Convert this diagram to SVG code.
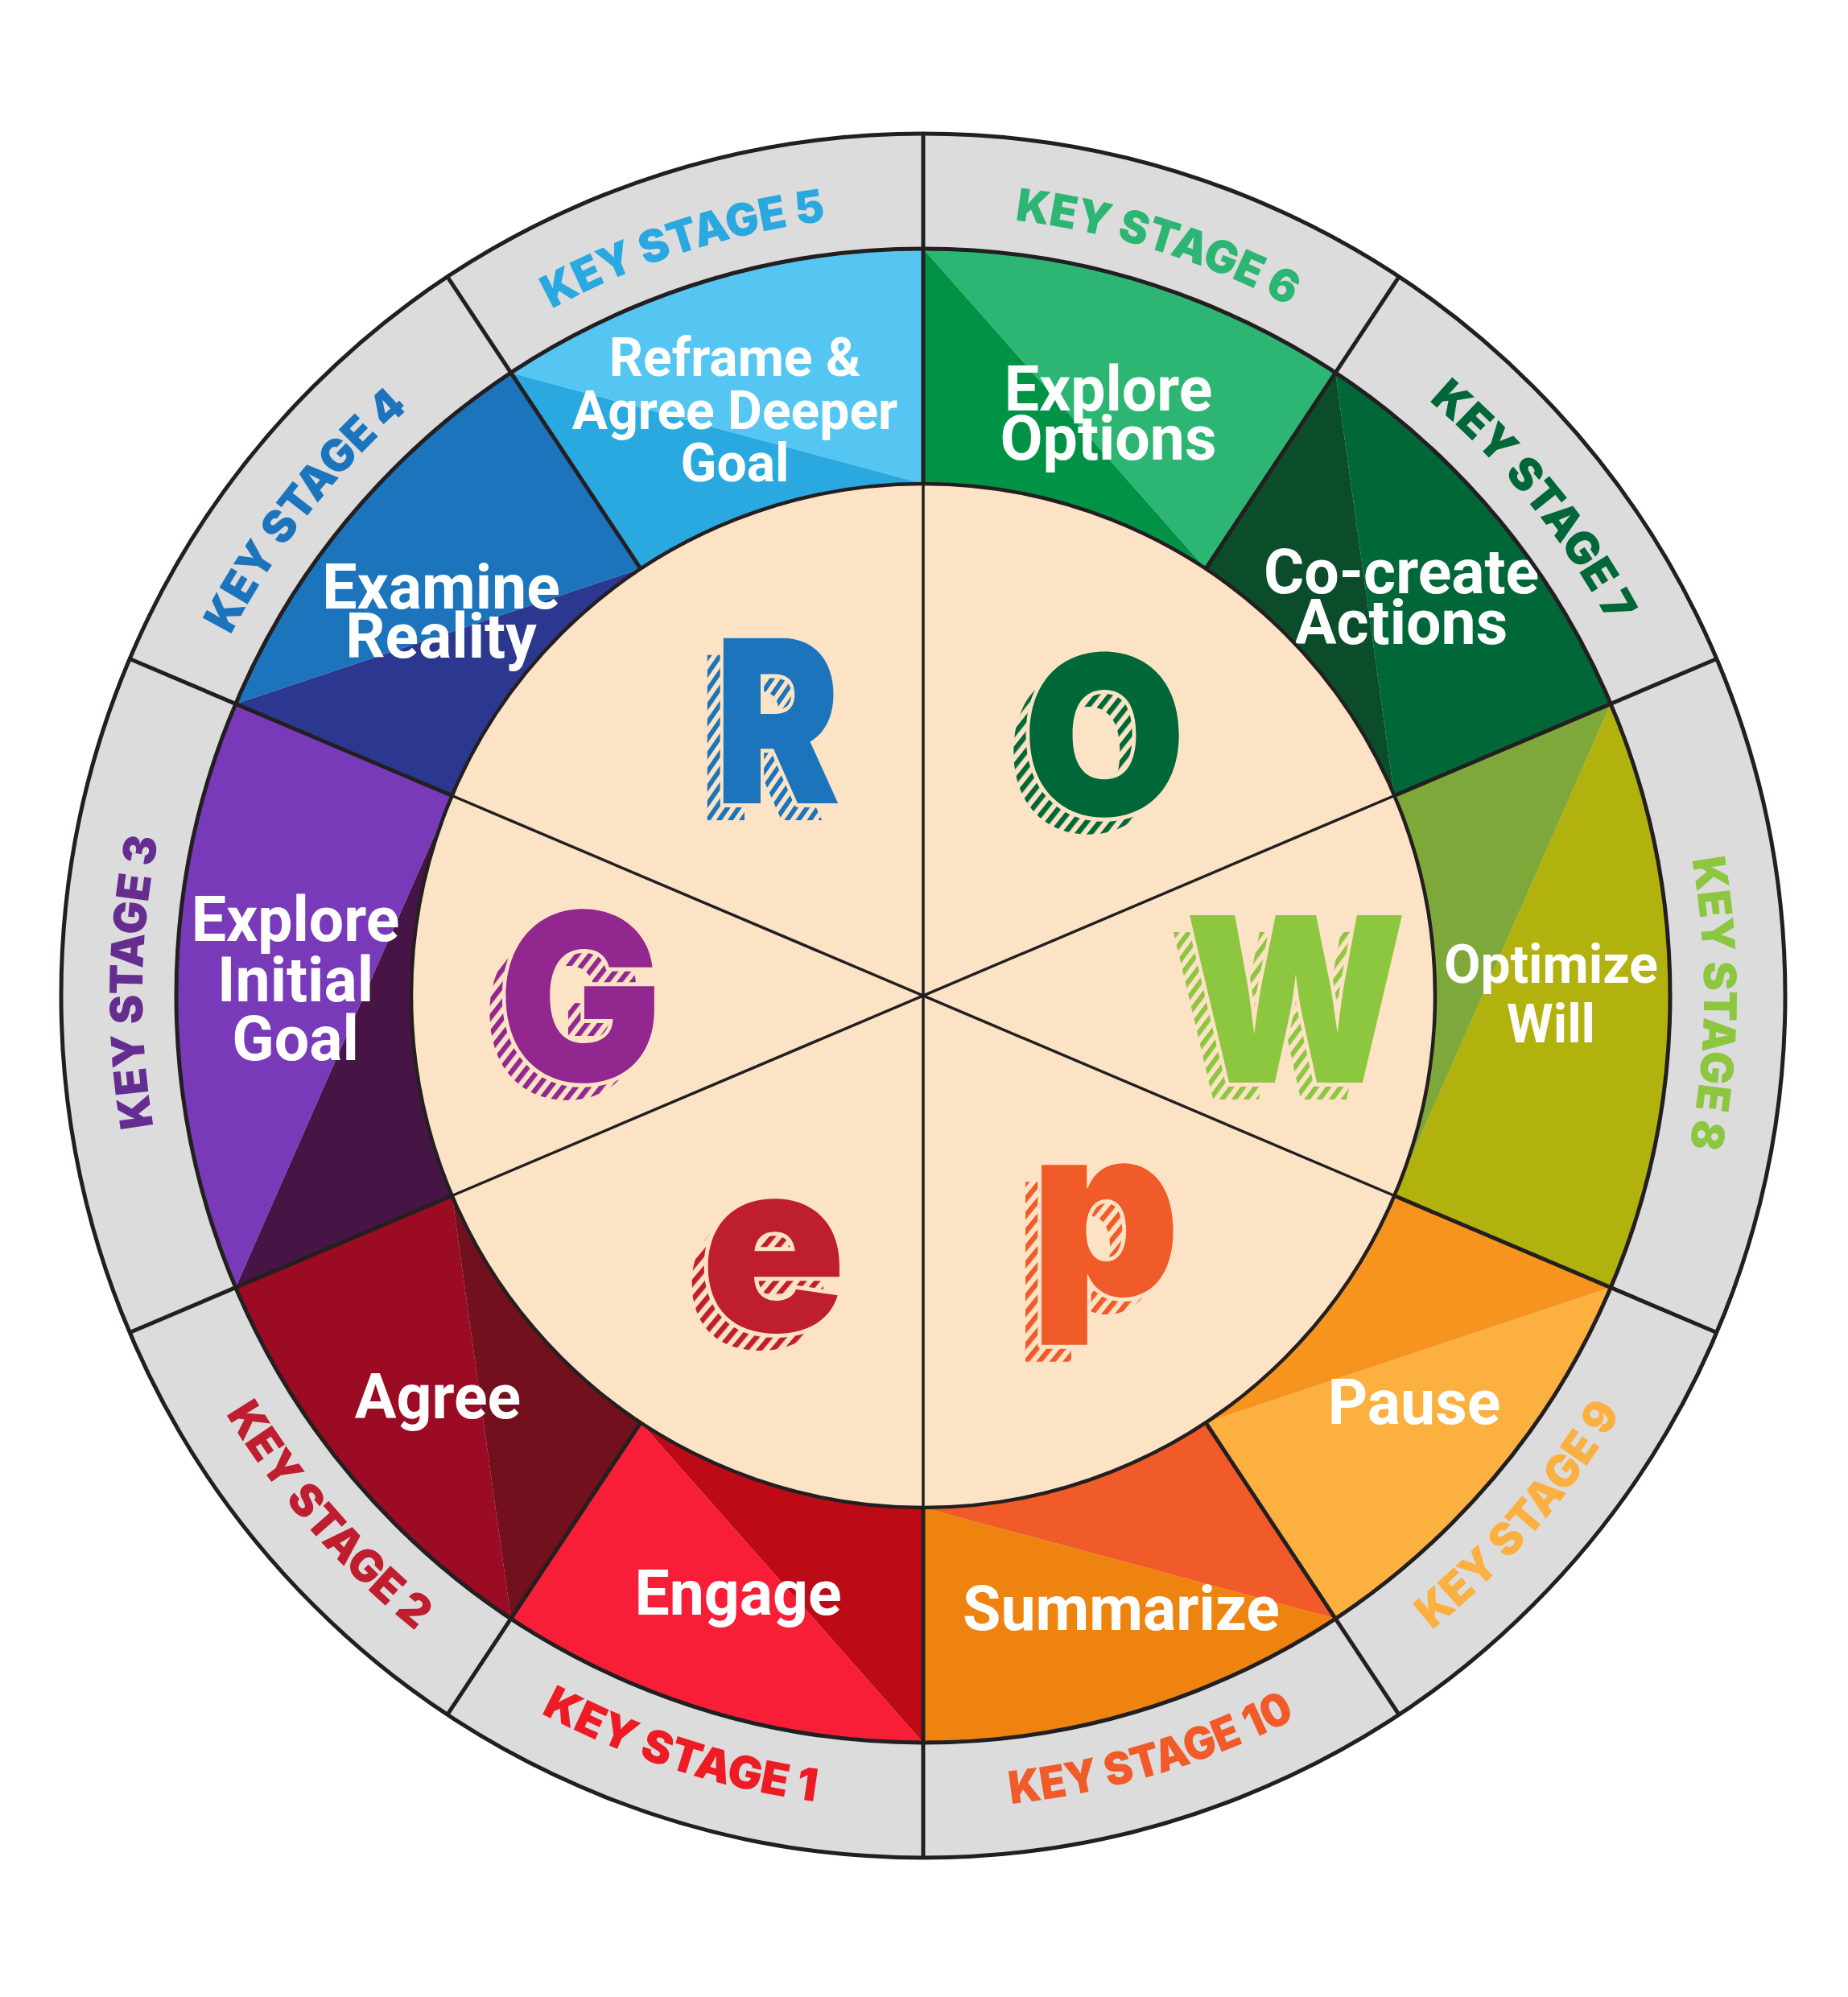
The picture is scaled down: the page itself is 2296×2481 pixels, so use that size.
<svg xmlns="http://www.w3.org/2000/svg" width="2296" height="2481" viewBox="0 0 2296 2481">
<style>
.ks{font-family:Inter,Roboto,"Liberation Sans",sans-serif;font-weight:900;font-size:56px}
.lbl{font-family:Roboto,"Liberation Sans",sans-serif;font-weight:700;fill:#fff;text-anchor:middle}
.l74{font-size:77px}
.l64{font-size:66px}
.big{font-family:Inter,Roboto,"Liberation Sans",sans-serif;font-weight:900;text-anchor:middle}
.face{stroke:#FDE3C5;stroke-width:10;paint-order:stroke;stroke-linejoin:round}
.ln{stroke:#231F20;fill:none}
</style>
<defs>
<pattern id="hR" width="13" height="13" patternUnits="userSpaceOnUse" patternTransform="rotate(40)"><rect width="6.5" height="13" fill="#1C75BC"/></pattern>
<pattern id="hO" width="13" height="13" patternUnits="userSpaceOnUse" patternTransform="rotate(40)"><rect width="6.5" height="13" fill="#006838"/></pattern>
<pattern id="hW" width="13" height="13" patternUnits="userSpaceOnUse" patternTransform="rotate(40)"><rect width="6.5" height="13" fill="#8DC63F"/></pattern>
<pattern id="hG" width="13" height="13" patternUnits="userSpaceOnUse" patternTransform="rotate(40)"><rect width="6.5" height="13" fill="#92278F"/></pattern>
<pattern id="hE" width="13" height="13" patternUnits="userSpaceOnUse" patternTransform="rotate(40)"><rect width="6.5" height="13" fill="#BE1E2D"/></pattern>
<pattern id="hP" width="13" height="13" patternUnits="userSpaceOnUse" patternTransform="rotate(40)"><rect width="6.5" height="13" fill="#F15A29"/></pattern>
<path id="p3" d="M254.1,1616.0 A970,970 0 0 1 254.1,858.0"/>
<path id="p4" d="M254.1,858.0 A970,970 0 0 1 611.6,428.1"/>
<path id="p5" d="M611.6,428.1 A970,970 0 0 1 1147,267"/>
<path id="p6" d="M1147,267 A970,970 0 0 1 1682.4,428.1"/>
<path id="p7" d="M1682.4,428.1 A970,970 0 0 1 2039.9,858.0"/>
<path id="p8" d="M2039.9,858.0 A970,970 0 0 1 2039.9,1616.0"/>
<path id="p9" d="M1704.5,2079.2 A1010,1010 0 0 0 2076.7,1631.6"/>
<path id="p10" d="M1147,2247 A1010,1010 0 0 0 1704.5,2079.2"/>
<path id="p1" d="M589.5,2079.2 A1010,1010 0 0 0 1147,2247"/>
<path id="p2" d="M217.3,1631.6 A1010,1010 0 0 0 589.5,2079.2"/>
</defs>
<rect width="2296" height="2481" fill="#fff"/>
<circle id="outer-ring" cx="1147" cy="1237" r="1071" fill="#DCDCDD"/>

<g id="ks6">
<path d="M1147,309 L1498.0,706.6 A636,636 0 0 0 1147,601 Z" fill="#009245"/>
<path d="M1147,309 A928,928 0 0 1 1659.2,463.2 L1498.0,706.6 Z" fill="#2DB673"/>
<text class="ks" fill="#2DB673"><textPath href="#p6" startOffset="294" text-anchor="middle" textLength="360" lengthAdjust="spacingAndGlyphs">KEY STAGE 6</textPath></text>
<text class="lbl l74" x="1377" y="510">Explore</text>
<text class="lbl l74" x="1377" y="571">Options</text>
</g>
<g id="ks7">
<path d="M1659.2,463.2 L1732.4,988.5 A636,636 0 0 0 1498.0,706.6 Z" fill="#0B4C2B"/>
<path d="M1659.2,463.2 A928,928 0 0 1 2001.2,874.4 L1732.4,988.5 Z" fill="#006838"/>
<text class="ks" fill="#006838"><textPath href="#p7" startOffset="296" text-anchor="middle" textLength="360" lengthAdjust="spacingAndGlyphs">KEY STAGE 7</textPath></text>
<text class="lbl l74" x="1741" y="737">Co-create</text>
<text class="lbl l74" x="1741" y="800">Actions</text>
</g>
<g id="ks8">
<path d="M2001.2,874.4 L1732.4,1485.5 A636,636 0 0 0 1732.4,988.5 Z" fill="#7FA83A"/>
<path d="M2001.2,874.4 A928,928 0 0 1 2001.2,1599.6 L1732.4,1485.5 Z" fill="#B1B20E"/>
<text class="ks" fill="#8DC63F"><textPath href="#p8" startOffset="399" text-anchor="middle" textLength="360" lengthAdjust="spacingAndGlyphs">KEY STAGE 8</textPath></text>
<text class="lbl l64" x="1927" y="1221">Optimize</text>
<text class="lbl l64" x="1927" y="1295">Will</text>
</g>
<g id="ks9">
<path d="M2001.2,1599.6 L1498.0,1767.4 A636,636 0 0 0 1732.4,1485.5 Z" fill="#F7941D"/>
<path d="M2001.2,1599.6 A928,928 0 0 1 1659.2,2010.8 L1498.0,1767.4 Z" fill="#FBB040"/>
<text class="ks" fill="#FBB040"><textPath href="#p9" startOffset="272" text-anchor="middle" textLength="360" lengthAdjust="spacingAndGlyphs">KEY STAGE 9</textPath></text>
<text class="lbl l74" x="1757" y="1769">Pause</text>
</g>
<g id="ks10">
<path d="M1659.2,2010.8 L1147,1873 A636,636 0 0 0 1498.0,1767.4 Z" fill="#F15A29"/>
<path d="M1659.2,2010.8 A928,928 0 0 1 1147,2165 L1147,1873 Z" fill="#EE8310"/>
<text class="ks" fill="#F15A29"><textPath href="#p10" startOffset="295" text-anchor="middle" textLength="372" lengthAdjust="spacingAndGlyphs">KEY STAGE 10</textPath></text>
<text class="lbl l74" x="1393" y="2025">Summarize</text>
</g>
<g id="ks1">
<path d="M1147,2165 L796.0,1767.4 A636,636 0 0 0 1147,1873 Z" fill="#BD0A17"/>
<path d="M1147,2165 A928,928 0 0 1 634.8,2010.8 L796.0,1767.4 Z" fill="#F91E37"/>
<text class="ks" fill="#ED1C24"><textPath href="#p1" startOffset="276" text-anchor="middle" textLength="360" lengthAdjust="spacingAndGlyphs">KEY STAGE 1</textPath></text>
<text class="lbl l74" x="917" y="2006">Engage</text>
</g>
<g id="ks2">
<path d="M634.8,2010.8 L561.6,1485.5 A636,636 0 0 0 796.0,1767.4 Z" fill="#72101D"/>
<path d="M634.8,2010.8 A928,928 0 0 1 292.8,1599.6 L561.6,1485.5 Z" fill="#9B0B23"/>
<text class="ks" fill="#BE1E2D"><textPath href="#p2" startOffset="320" text-anchor="middle" textLength="360" lengthAdjust="spacingAndGlyphs">KEY STAGE 2</textPath></text>
<text class="lbl l74" x="544" y="1762">Agree</text>
</g>
<g id="ks3">
<path d="M292.8,1599.6 L561.6,988.5 A636,636 0 0 0 561.6,1485.5 Z" fill="#461545"/>
<path d="M292.8,1599.6 A928,928 0 0 1 292.8,874.4 L561.6,988.5 Z" fill="#783AB9"/>
<text class="ks" fill="#662D91"><textPath href="#p3" startOffset="406" text-anchor="middle" textLength="360" lengthAdjust="spacingAndGlyphs">KEY STAGE 3</textPath></text>
<text class="lbl l74" x="367" y="1169">Explore</text>
<text class="lbl l74" x="367" y="1244">Initial</text>
<text class="lbl l74" x="367" y="1317">Goal</text>
</g>
<g id="ks4">
<path d="M292.8,874.4 L796.0,706.6 A636,636 0 0 0 561.6,988.5 Z" fill="#2C388F"/>
<path d="M292.8,874.4 A928,928 0 0 1 634.8,463.2 L796.0,706.6 Z" fill="#1C75BC"/>
<text class="ks" fill="#1C75BC"><textPath href="#p4" startOffset="256" text-anchor="middle" textLength="360" lengthAdjust="spacingAndGlyphs">KEY STAGE 4</textPath></text>
<text class="lbl l74" x="548" y="756">Examine</text>
<text class="lbl l74" x="548" y="817">Reality</text>
</g>
<g id="ks5">
<path d="M634.8,463.2 L1147,601 A636,636 0 0 0 796.0,706.6 Z" fill="#29A9E0"/>
<path d="M634.8,463.2 A928,928 0 0 1 1147,309 L1147,601 Z" fill="#55C6F1"/>
<text class="ks" fill="#29A9E0"><textPath href="#p5" startOffset="266" text-anchor="middle" textLength="360" lengthAdjust="spacingAndGlyphs">KEY STAGE 5</textPath></text>
<text class="lbl l64" x="913" y="467">Reframe &amp;</text>
<text class="lbl l64" x="913" y="533">Agree Deeper</text>
<text class="lbl l64" x="913" y="598">Goal</text>
</g>

<circle id="core" cx="1147" cy="1237" r="636" fill="#FDE3C5"/>

<g id="connectors" class="ln">
<circle cx="1147" cy="1237" r="1071" stroke-width="5"/>
<circle cx="1147" cy="1237" r="928" stroke-width="5"/>
<circle cx="1147" cy="1237" r="636" stroke-width="4.5"/>
<g stroke-width="5">
<line x1="1147" y1="601" x2="1147" y2="166"/>
<line x1="1498.0" y1="706.6" x2="1738.1" y2="343.9"/>
<line x1="1732.4" y1="988.5" x2="2132.9" y2="818.5"/>
<line x1="1732.4" y1="1485.5" x2="2132.9" y2="1655.5"/>
<line x1="1498.0" y1="1767.4" x2="1738.1" y2="2130.1"/>
<line x1="1147" y1="1873" x2="1147" y2="2308"/>
<line x1="796.0" y1="1767.4" x2="555.9" y2="2130.1"/>
<line x1="561.6" y1="1485.5" x2="161.1" y2="1655.5"/>
<line x1="561.6" y1="988.5" x2="161.1" y2="818.5"/>
<line x1="796.0" y1="706.6" x2="555.9" y2="343.9"/>
</g>
<g stroke-width="3.5">
<line x1="1147" y1="601" x2="1147" y2="1873"/>
<line x1="561.6" y1="988.5" x2="1732.4" y2="1485.5"/>
<line x1="561.6" y1="1485.5" x2="1732.4" y2="988.5"/>
</g>
</g>

<g id="letter-R">
<use href="#tR" fill="url(#hR)" stroke="none" transform="translate(-20,21)"/>
<g fill="#1C75BC" class="face"><text id="tR" class="big" font-size="282" transform="translate(966,998) scale(0.83,1)">R</text></g>
</g>
<g id="letter-O">
<use href="#tO" fill="url(#hO)" stroke="none" transform="translate(-20,21)"/>
<g fill="#006838" class="face"><text id="tO" class="big" font-size="276" transform="translate(1372,1013) scale(0.95,1)">O</text></g>
</g>
<g id="letter-W">
<use href="#tW" fill="url(#hW)" stroke="none" transform="translate(-20,21)"/>
<g fill="#8DC63F" class="face"><text id="tW" class="big" font-size="286" transform="translate(1610,1345) scale(0.89,1)">W</text></g>
</g>
<g id="letter-G">
<use href="#tG" fill="url(#hG)" stroke="none" transform="translate(-20,21)"/>
<g fill="#92278F" class="face"><text id="tG" class="big" font-size="290" transform="translate(721,1343) scale(0.93,1)">G</text></g>
</g>
<g id="letter-e">
<use href="#tE" fill="url(#hE)" stroke="none" transform="translate(-20,21)"/>
<g fill="#BE1E2D" class="face"><text id="tE" class="big" font-size="298" transform="translate(961,1654) scale(1,1)">e</text></g>
</g>
<g id="letter-p">
<use href="#tP" fill="url(#hP)" stroke="none" transform="translate(-20,21)"/>
<g fill="#F15A29" class="face"><text id="tP" class="big" font-size="298" transform="translate(1373,1610) scale(0.97,1)">p</text></g>
</g>
</svg>
